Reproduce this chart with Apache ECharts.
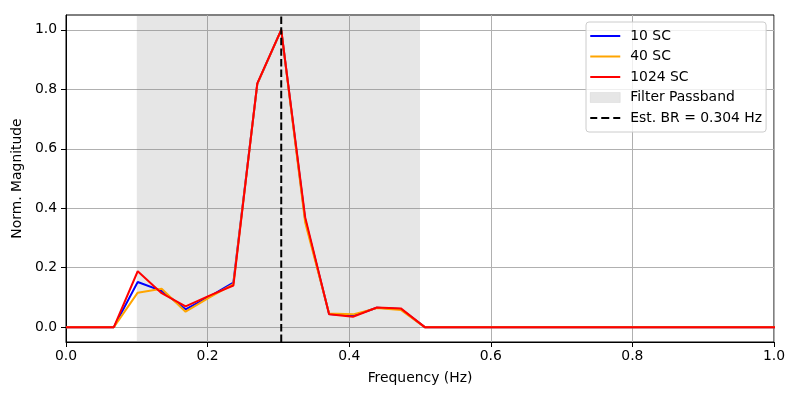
<!DOCTYPE html>
<html>
<head>
<meta charset="utf-8">
<script src="https://cdn.jsdelivr.net/npm/echarts@6/dist/echarts.min.js"></script>
<style>html,body{margin:0;padding:0;background:#fff}#c{width:800px;height:400px}</style>
</head>
<body>
<div id="c"></div>
<script>
const freqs = [0, 0.0338, 0.0676, 0.1013, 0.1351, 0.1689, 0.2027, 0.2364, 0.2702, 0.304, 0.3378, 0.3716, 0.4053, 0.4391, 0.4729, 0.5067,
  0.5404, 0.5742, 0.608, 0.6418, 0.6756, 0.7093, 0.7431, 0.7769, 0.8107, 0.8444, 0.8782, 0.912, 0.9458, 0.9796, 1.0133];
const sc10   = [0, 0, 0, 0.152, 0.122, 0.060, 0.103, 0.150, 0.818, 1.0, 0.362, 0.044, 0.038, 0.065, 0.061, 0,
  0, 0, 0, 0, 0, 0, 0, 0, 0, 0, 0, 0, 0, 0, 0];
const sc40   = [0, 0, 0, 0.116, 0.129, 0.052, 0.100, 0.145, 0.818, 1.0, 0.352, 0.046, 0.043, 0.064, 0.058, 0,
  0, 0, 0, 0, 0, 0, 0, 0, 0, 0, 0, 0, 0, 0, 0];
const sc1024 = [0, 0, 0, 0.188, 0.114, 0.070, 0.106, 0.140, 0.820, 1.0, 0.370, 0.043, 0.035, 0.066, 0.063, 0,
  0, 0, 0, 0, 0, 0, 0, 0, 0, 0, 0, 0, 0, 0, 0];
const passband = [0.1, 0.5];
const estBR = 0.304;
const xTicks = [0, 0.2, 0.4, 0.6, 0.8, 1.0];
const yTicks = [0, 0.2, 0.4, 0.6, 0.8, 1.0];

const pair = (ys) => freqs.map((f, i) => [f, ys[i]]);
const FONT = 'DejaVu Sans';
const FS = 13.9;
const lineIcon = 'path://M0,0 L30,0 L30,2 L0,2 Z';

const chart = echarts.init(document.getElementById('c'), null, {renderer: 'canvas'});
chart.setOption({
  animation: false,
  textStyle: {fontFamily: FONT, color: '#000'},
  grid: {left: 66, right: 26, top: 15, bottom: 58, show: true, borderColor: '#000', borderWidth: 1, backgroundColor: 'transparent'},
  xAxis: {
    type: 'value', min: 0, max: 1, interval: 0.2,
    name: 'Frequency (Hz)', nameLocation: 'middle', nameGap: 29,
    nameTextStyle: {fontFamily: FONT, fontSize: FS, color: '#000'},
    axisLine: {show: true, onZero: false, lineStyle: {color: '#000', width: 1}},
    axisTick: {show: true, length: 5, lineStyle: {color: '#000'}},
    axisLabel: {fontFamily: FONT, fontSize: FS, color: '#000', margin: 7, formatter: v => v.toFixed(1)},
    splitLine: {show: true, lineStyle: {color: '#b0b0b0', width: 1}}
  },
  yAxis: {
    type: 'value', min: -0.05, max: 1.05,
    name: 'Norm. Magnitude', nameLocation: 'middle', nameGap: 39,
    nameTextStyle: {fontFamily: FONT, fontSize: FS, color: '#000'},
    axisLine: {show: true, onZero: false, lineStyle: {color: '#000', width: 1}},
    axisTick: {show: true, length: 5, lineStyle: {color: '#000'}, customValues: yTicks},
    axisLabel: {fontFamily: FONT, fontSize: FS, color: '#000', margin: 9, customValues: yTicks, formatter: v => v.toFixed(1)},
    splitLine: {show: true, lineStyle: {color: '#b0b0b0', width: 1}}
  },
  legend: {
    left: 586, top: 22, orient: 'vertical',
    padding: [7, 4, 7, 4], itemGap: 6.5, itemWidth: 30, itemHeight: 10,
    backgroundColor: 'rgba(255,255,255,0.8)', borderColor: '#cccccc', borderWidth: 1, borderRadius: 3,
    textStyle: {fontFamily: FONT, fontSize: FS, color: '#000', lineHeight: 14, padding: [0, 0, 0, 5]},
    data: [
      {name: '10 SC', icon: lineIcon, itemStyle: {color: '#0000ff'}},
      {name: '40 SC', icon: lineIcon, itemStyle: {color: '#ffa500'}},
      {name: '1024 SC', icon: lineIcon, itemStyle: {color: '#ff0000'}},
      {name: 'Filter Passband', icon: 'rect', itemStyle: {color: 'rgba(128,128,128,0.2)', borderColor: 'rgba(128,128,128,0.25)', borderWidth: 0.5}},
      {name: 'Est. BR = 0.304 Hz', icon: 'path://M0,0 L7,0 L7,2 L0,2 Z M11,0 L19,0 L19,2 L11,2 Z M23,0 L30,0 L30,2 L23,2 Z', itemStyle: {color: '#000'}}
    ]
  },
  series: [
    {
      name: 'Filter Passband', type: 'line', data: [], symbol: 'none',
      itemStyle: {color: 'rgba(128,128,128,0.2)'},
      markArea: {silent: true, itemStyle: {color: 'rgba(128,128,128,0.2)'}, data: [[{xAxis: passband[0]}, {xAxis: passband[1]}]]},
      z: 1
    },
    {name: '10 SC', type: 'line', data: pair(sc10), symbol: 'none', lineStyle: {color: '#0000ff', width: 2}, itemStyle: {color: '#0000ff'}, z: 3},
    {name: '40 SC', type: 'line', data: pair(sc40), symbol: 'none', lineStyle: {color: '#ffa500', width: 2}, itemStyle: {color: '#ffa500'}, z: 4},
    {name: '1024 SC', type: 'line', data: pair(sc1024), symbol: 'none', lineStyle: {color: '#ff0000', width: 2}, itemStyle: {color: '#ff0000'}, z: 5},
    {name: 'Est. BR = 0.304 Hz', type: 'line', data: [[estBR, -0.05], [estBR, 1.05]], symbol: 'none',
      lineStyle: {color: '#000', width: 2, type: [7.4, 3.2]}, itemStyle: {color: '#000'}, z: 6}
  ]
});
</script>
</body>
</html>
